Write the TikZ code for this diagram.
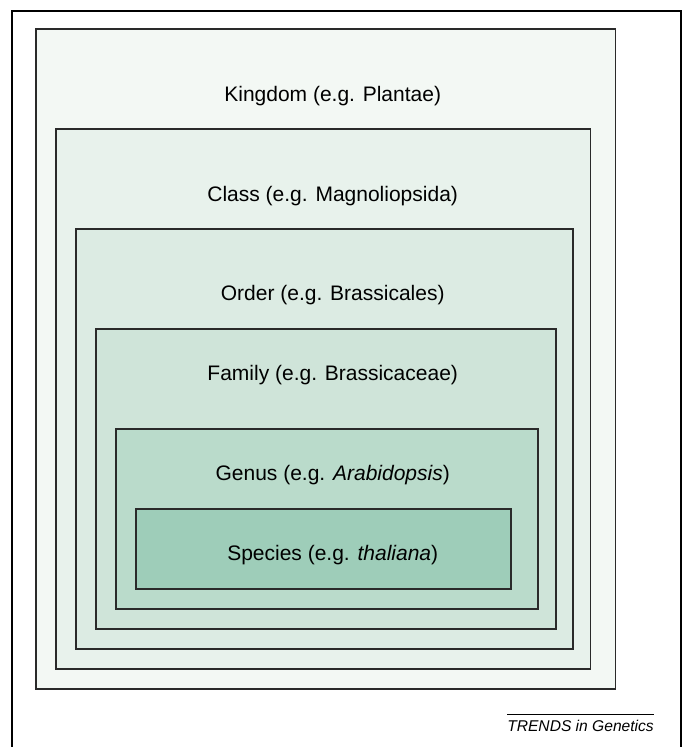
\documentclass[tikz,border=0pt]{standalone}
\usepackage{fontspec}
\setmainfont{Liberation Sans}
\usepackage{xcolor}
\usepackage{tikz}
\usetikzlibrary{positioning}
\definecolor{kingdomfill}{HTML}{F3F8F4}
\definecolor{classfill}{HTML}{E8F2EC}
\definecolor{orderfill}{HTML}{DCEBE3}
\definecolor{familyfill}{HTML}{CFE4D9}
\definecolor{genusfill}{HTML}{BADBCB}
\definecolor{speciesfill}{HTML}{9ECDB9}
\definecolor{boxline}{HTML}{2A2A2A}

\begin{document}
\begin{tikzpicture}[x=1pt, y=-1pt,
  rankbox/.style={draw=boxline, line width=1.8},
  ranklabel/.style={anchor=base, inner sep=0pt, font=\fontsize{21}{25}\selectfont}]
\useasboundingbox (0,0) rectangle (684,747);
% outer frame (open at the bottom)
\draw[line width=1.6, black] (12,747) -- (12,11) -- (680.7,11) -- (680.7,747);
% nested ranks
\filldraw[rankbox, fill=kingdomfill] (36,29.3) rectangle (615.5,688.7);
\filldraw[rankbox, fill=classfill] (56,129.3) rectangle (590.5,668.7);
\filldraw[rankbox, fill=orderfill] (76,229) rectangle (573.3,649);
\filldraw[rankbox, fill=familyfill] (96,329.3) rectangle (556,629);
\filldraw[rankbox, fill=genusfill] (116,428.7) rectangle (538.3,609);
\filldraw[rankbox, fill=speciesfill] (136,508.7) rectangle (510.7,588.7);
% labels
\node[ranklabel] (kingdom) at (332.7,101.7) {Kingdom (e.g. Plantae)};
\node[ranklabel] (class) at (332.7,201.7) {Class (e.g. Magnoliopsida)};
\node[ranklabel] (order) at (332.7,300.3) {Order (e.g. Brassicales)};
\node[ranklabel] (family) at (332.7,380.7) {Family (e.g. Brassicaceae)};
\node[ranklabel] (genus) at (332.7,480.7) {Genus (e.g. \textit{Arabidopsis})};
\node[ranklabel] (species) at (332.7,560) {Species (e.g. \textit{thaliana})};
% journal tag
\node[anchor=base east, inner sep=0pt, font=\fontsize{15.6}{18}\selectfont\itshape] (journal) at (654,731.7) {TRENDS in Genetics};
\draw[line width=0.9] (journal.west |- 0,714.3) -- (journal.east |- 0,714.3);
\end{tikzpicture}
\end{document}
